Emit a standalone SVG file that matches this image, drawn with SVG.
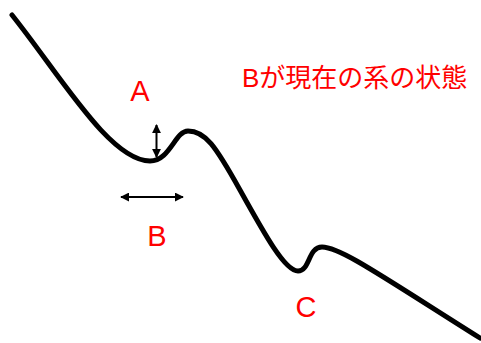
<svg xmlns="http://www.w3.org/2000/svg" width="481" height="343" viewBox="0 0 481 343">
<defs>
<marker id="ah" viewBox="0 0 10 10" refX="9" refY="5" markerWidth="4.5" markerHeight="4.5" orient="auto-start-reverse" markerUnits="strokeWidth">
<path d="M0,0 L10,5 L0,10 z" fill="#000"/>
</marker>
<style>
.lbl{font-family:"Liberation Sans","Noto Sans CJK JP",sans-serif;fill:#ff0000;}
.arr{stroke:#000;stroke-width:2;fill:none;marker-start:url(#ah);marker-end:url(#ah);}
</style>
</defs>
<rect width="481" height="343" fill="#fff"/>
<g id="curve">
<path d="M12,15 C60,75 110,161 150,161 C170,161 175,131 188,131 C205,131 215,145 240,190 C265,235 285,271 298,271 C310,271 308,247 322,247 C340,247 380,275 480,338" fill="none" stroke="#000" stroke-width="5" stroke-linecap="round"/>
</g>
<g id="connectors">
<line class="arr" x1="156.5" y1="125" x2="156.5" y2="157"/>
<line class="arr" x1="121" y1="197" x2="183" y2="197"/>
</g>
<g id="labelA"><text class="lbl" x="140" y="101" font-size="29" text-anchor="middle">A</text></g>
<g id="labelB"><text class="lbl" x="157" y="246" font-size="29" text-anchor="middle">B</text></g>
<g id="labelC"><text class="lbl" x="306" y="317" font-size="29" text-anchor="middle">C</text></g>
<g id="title"><text class="lbl" x="242" y="87" font-size="26">Bが現在の系の状態</text></g>
</svg>
